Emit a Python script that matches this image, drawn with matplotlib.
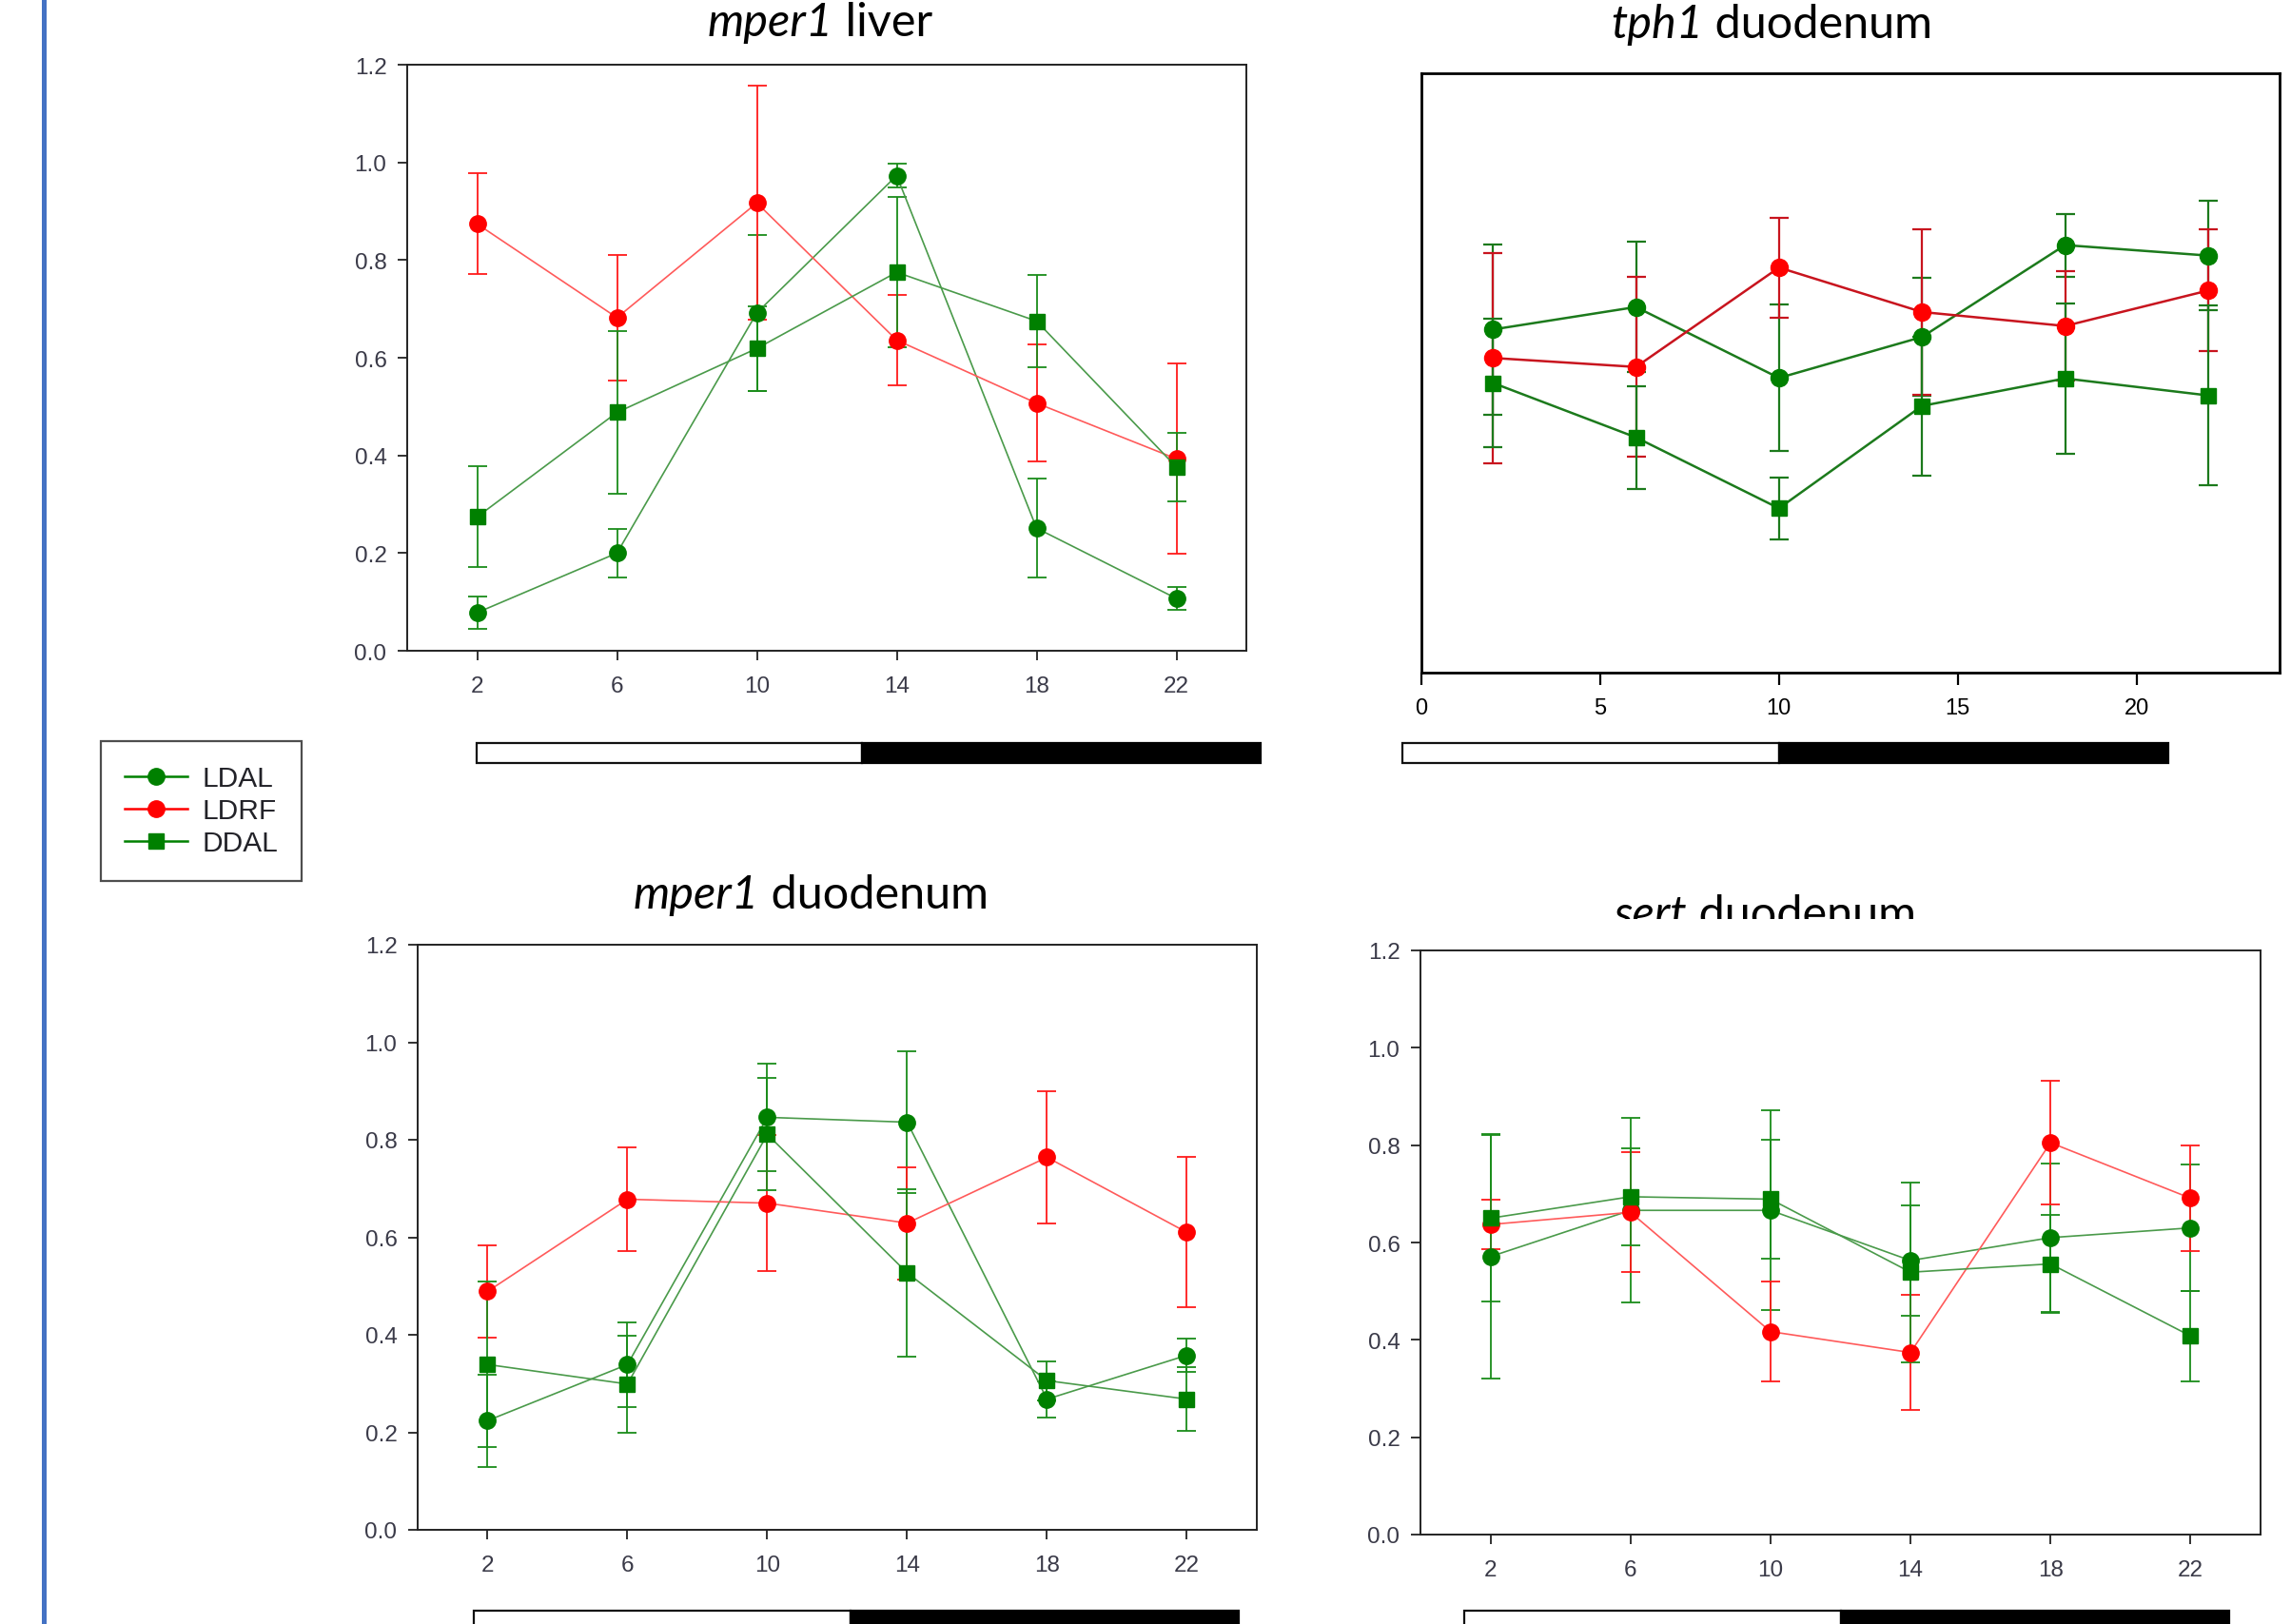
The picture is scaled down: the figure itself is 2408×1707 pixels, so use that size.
import matplotlib
matplotlib.use('Agg')
import matplotlib.pyplot as plt
from matplotlib.patches import Rectangle
from matplotlib.lines import Line2D
from matplotlib.transforms import Bbox, TransformedBbox

# sampling times (h)
hours = [2, 6, 10, 14, 18, 22]
group_names = ['LDAL', 'LDRF', 'DDAL']

# mper1 liver
liver_ldal = [0.078, 0.200, 0.692, 0.973, 0.251, 0.107]
liver_ldal_err = [0.033, 0.050, 0.160, 0.025, 0.101, 0.023]
liver_ldrf = [0.874, 0.682, 0.917, 0.636, 0.507, 0.393]
liver_ldrf_err = [0.103, 0.128, 0.240, 0.092, 0.120, 0.195]
liver_ddal = [0.274, 0.488, 0.619, 0.775, 0.675, 0.376]
liver_ddal_err = [0.103, 0.166, 0.087, 0.154, 0.095, 0.070]

# tph1 duodenum (no y scale shown)
tph1_ldal = [0.687, 0.732, 0.590, 0.672, 0.856, 0.835]
tph1_ldal_err = [0.170, 0.130, 0.147, 0.118, 0.063, 0.109]
tph1_ldrf = [0.630, 0.612, 0.811, 0.722, 0.694, 0.765]
tph1_ldrf_err = [0.210, 0.180, 0.100, 0.165, 0.110, 0.122]
tph1_ddal = [0.580, 0.471, 0.329, 0.534, 0.589, 0.555]
tph1_ddal_err = [0.129, 0.103, 0.062, 0.139, 0.150, 0.180]

# mper1 duodenum
duo_ldal = [0.224, 0.339, 0.846, 0.836, 0.268, 0.358]
duo_ldal_err = [0.095, 0.087, 0.110, 0.145, 0.037, 0.035]
duo_ldrf = [0.489, 0.678, 0.670, 0.629, 0.764, 0.610]
duo_ldrf_err = [0.094, 0.106, 0.140, 0.115, 0.135, 0.154]
duo_ddal = [0.339, 0.299, 0.811, 0.527, 0.306, 0.268]
duo_ddal_err = [0.170, 0.099, 0.115, 0.172, 0.040, 0.065]

# sert duodenum
sert_ldal = [0.571, 0.666, 0.666, 0.563, 0.610, 0.630]
sert_ldal_err = [0.250, 0.190, 0.205, 0.114, 0.153, 0.130]
sert_ldrf = [0.637, 0.662, 0.417, 0.374, 0.805, 0.691]
sert_ldrf_err = [0.050, 0.123, 0.103, 0.118, 0.127, 0.108]
sert_ddal = [0.650, 0.694, 0.689, 0.539, 0.556, 0.408]
sert_ddal_err = [0.172, 0.100, 0.122, 0.185, 0.100, 0.093]

yticks = [0.0, 0.2, 0.4, 0.6, 0.8, 1.0, 1.2]
tph1_xticks = [0, 5, 10, 15, 20]

W, H = 2408, 1708
fig = plt.figure(figsize=(W / 100, H / 100), dpi=100)


def axes_px(x0, y0, x1, y1):
    return fig.add_axes([x0 / W, 1 - y1 / H, (x1 - x0) / W, (y1 - y0) / H])


def draw(ax, series, lw, elw, ms, cap, line_cols, err_cols):
    handles = []
    markers = ['o', 'o', 's']
    cols = ['#008000', '#ff0000', '#008000']
    for (vals, errs), mk, col, lcol, ecol in zip(series, markers, cols, line_cols, err_cols):
        ax.errorbar(hours, vals, yerr=errs, fmt='none', ecolor=ecol,
                    elinewidth=elw, capsize=cap, capthick=elw, zorder=2)
        h, = ax.plot(hours, vals, color=lcol, lw=lw, marker=mk,
                     ms=ms if mk == 'o' else ms * 0.88, mfc=col, mec=col, zorder=3)
        handles.append(h)
    return handles


def style_sigma(ax):
    ax.set_xlim(0, 24)
    ax.set_ylim(0, 1.2)
    ax.set_xticks(hours)
    ax.set_xticklabels([str(h) for h in hours])
    ax.set_yticks(yticks)
    ax.set_yticklabels(['%.1f' % v for v in yticks])
    for s in ax.spines.values():
        s.set_color('#222222')
        s.set_linewidth(1.4)
    ax.tick_params(direction='out', length=7.5, width=1.3, color='#222222',
                   labelsize=17.5, labelcolor='#3a3a48')
    ax.tick_params(axis='x', pad=11)
    ax.tick_params(axis='y', pad=8)
    for lab in ax.get_xticklabels() + ax.get_yticklabels():
        lab.set_family(['Liberation Sans Narrow', 'Liberation Sans', 'DejaVu Sans'])


thin_lines = ['#4a9a4a', '#ff5a5a', '#4a9a4a']
thin_err = ['#1a8c1a', '#ff1a1a', '#1a8c1a']

# mper1 liver
ax1 = axes_px(428, 69, 1310, 685)
handles = draw(ax1, [(liver_ldal, liver_ldal_err), (liver_ldrf, liver_ldrf_err),
                     (liver_ddal, liver_ddal_err)],
               1.2, 1.3, 12.5, 7, thin_lines, thin_err)
style_sigma(ax1)

# tph1 duodenum
ax2 = axes_px(1494, 78, 2396, 708)
draw(ax2, [(tph1_ldal, tph1_ldal_err), (tph1_ldrf, tph1_ldrf_err),
           (tph1_ddal, tph1_ddal_err)],
     1.8, 1.6, 13, 7.5, ['#1c7a1c', '#c8141e', '#1c7a1c'], ['#1c7a1c', '#c8141e', '#1c7a1c'])
ax2.set_xlim(0, 24)
ax2.set_ylim(0, 1.2)
ax2.set_xticks(tph1_xticks)
ax2.set_yticks([])
for s in ax2.spines.values():
    s.set_color('black')
    s.set_linewidth(2)
ax2.tick_params(axis='x', direction='out', length=9, width=1.6, color='black',
                labelsize=17, labelcolor='black', pad=10)
for lab in ax2.get_xticklabels():
    lab.set_family(['Liberation Sans', 'DejaVu Sans'])

# mper1 duodenum
ax3 = axes_px(439, 994, 1321, 1609)
draw(ax3, [(duo_ldal, duo_ldal_err), (duo_ldrf, duo_ldrf_err), (duo_ddal, duo_ddal_err)],
     1.2, 1.3, 12.5, 7, thin_lines, thin_err)
style_sigma(ax3)

# sert duodenum
ax4 = axes_px(1493, 1000, 2376, 1614)
draw(ax4, [(sert_ldal, sert_ldal_err), (sert_ldrf, sert_ldrf_err), (sert_ddal, sert_ddal_err)],
     1.2, 1.3, 12.5, 7, thin_lines, thin_err)
style_sigma(ax4)

# titles: italic gene name + plain tissue name, centred together
renderer = fig.canvas.get_renderer()


def title(xc, yb, gene, tissue, clip_y=None):
    kw = dict(ha='left', va='baseline', fontsize=35, family='Lato', color='black')
    t1 = fig.text(0, 1 - yb / H, gene, style='italic', **kw)
    t2 = fig.text(0, 1 - yb / H, '\u00a0' + tissue, **kw)
    w1 = t1.get_window_extent(renderer).width
    w2 = t2.get_window_extent(renderer).width
    x0 = xc - (w1 + w2) / 2
    t1.set_x(x0 / W)
    t2.set_x((x0 + w1) / W)
    if clip_y is not None:
        box = TransformedBbox(Bbox([[0, 1 - clip_y / H], [1, 1]]), fig.transFigure)
        for t in (t1, t2):
            t.set_clip_box(box)
            t.set_clip_on(True)


title(862, 38, 'mper1', 'liver')
title(1862, 40, 'tph1', 'duodenum')
title(852, 955, 'mper1', 'duodenum')
title(1855, 976, 'sert', 'duodenum', clip_y=967)

# light / dark bars under each panel (x0, split, x1, top) in pixels
bars = [(501, 906, 1325, 782), (1474, 1870, 2279, 782),
        (498, 894, 1302, 1694), (1539, 1935, 2343, 1694)]
bh = 21
for x0, xm, x1, top in bars:
    fig.add_artist(Rectangle((x0 / W, 1 - (top + bh) / H), (xm - x0) / W, bh / H,
                             transform=fig.transFigure, facecolor='white',
                             edgecolor='#111111', lw=1.6))
    fig.add_artist(Rectangle((xm / W, 1 - (top + bh) / H), (x1 - xm) / W, bh / H,
                             transform=fig.transFigure, facecolor='black',
                             edgecolor='black', lw=1.6))

# legend
leg = fig.legend(handles, group_names, loc='upper left',
                 bbox_to_anchor=(106 / W, 1 - 780 / H), frameon=True, fancybox=False,
                 edgecolor='#222222', labelspacing=0.2,
                 handlelength=2.2, handletextpad=0.5, borderpad=0.85,
                 borderaxespad=0, prop={'family': ['Liberation Sans', 'DejaVu Sans'], 'size': 21.5})
leg.get_frame().set_linewidth(1.6)
for lh in leg.legend_handles:
    lh.set_color(lh.get_markerfacecolor())
    lh.set_linewidth(1.8)
for txt in leg.get_texts():
    txt.set_color('#222228')

# blue bar on the left
fig.add_artist(Line2D([46 / W, 46 / W], [0, 1], transform=fig.transFigure,
                      color='#4472C4', lw=3.6))

fig.savefig('out.png', dpi=100)
